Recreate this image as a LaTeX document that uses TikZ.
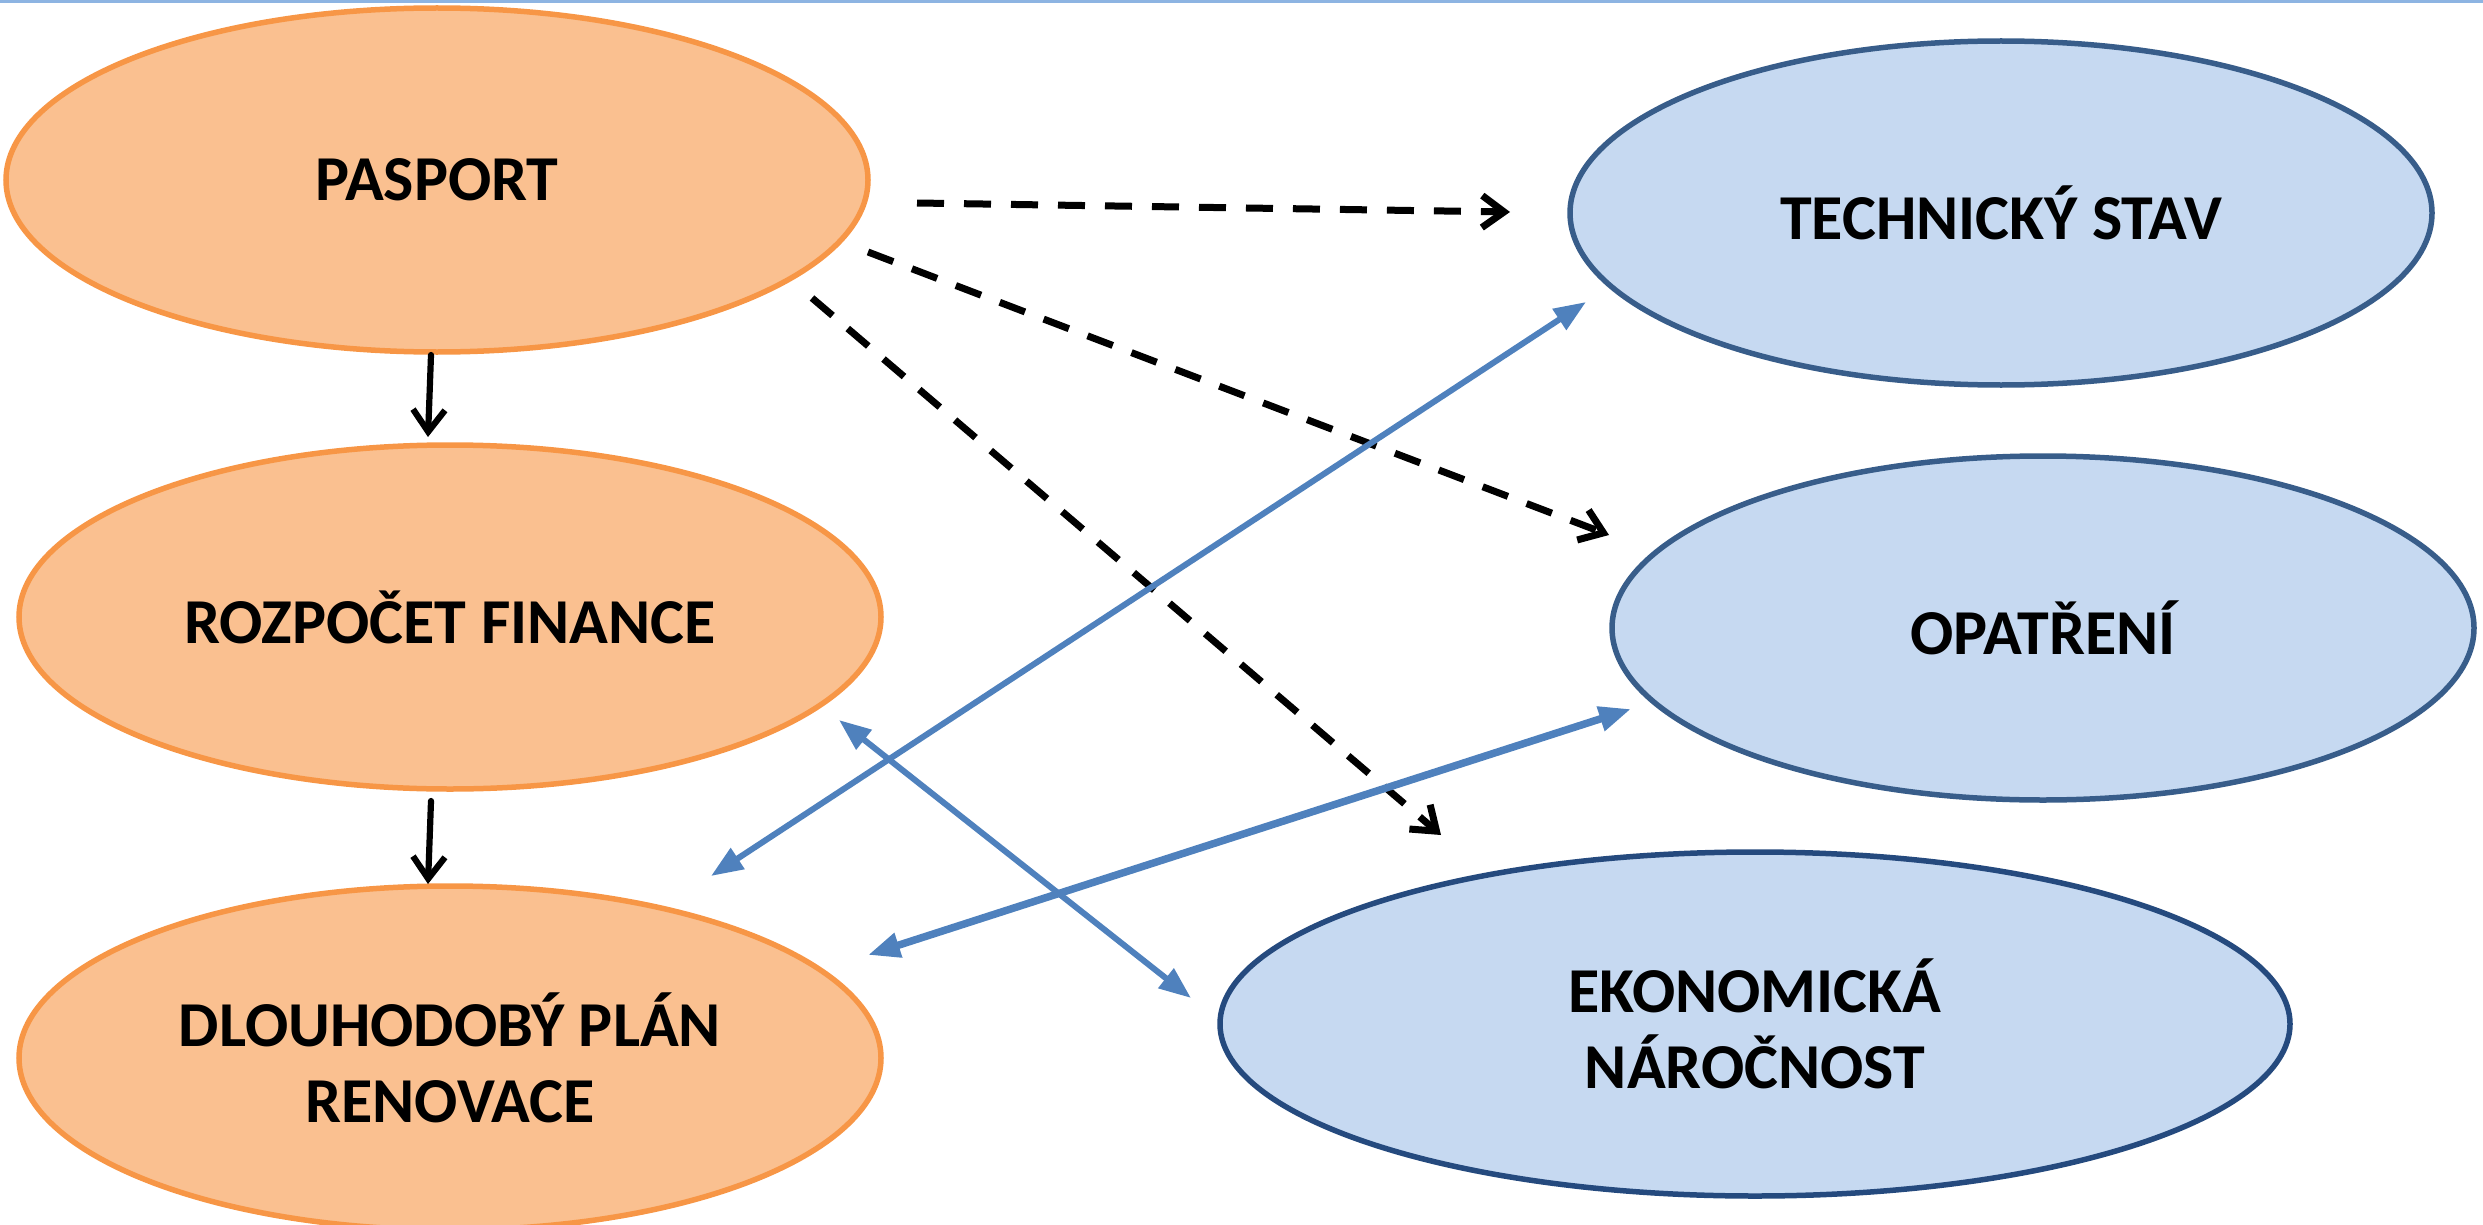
\documentclass[tikz,border=0pt]{standalone}
\usepackage{fontspec}
\setmainfont{Carlito}
\usetikzlibrary{arrows.meta,shapes.geometric}
\definecolor{orfill}{HTML}{FAC090}
\definecolor{ordraw}{HTML}{F79646}
\definecolor{blfill}{HTML}{C6D9F1}
\definecolor{bldraw}{HTML}{385D8A}
\definecolor{bldark}{HTML}{254A7E}
\definecolor{arrblue}{HTML}{4F81BD}
\definecolor{topline}{HTML}{8DB4E2}
\begin{document}
\begin{tikzpicture}[x=1pt,y=-1pt,
  oval/.style={ellipse, minimum width=862pt, minimum height=344pt, inner sep=0pt, outer sep=0pt,
    line width=5.5pt, font=\fontsize{64}{76}\selectfont\bfseries, align=center},
  orangenode/.style={oval, fill=orfill, draw=ordraw},
  bluenode/.style={oval, fill=blfill, draw=bldraw},
  solidarr/.style={line width=6.2pt, -{Straight Barb[length=22pt,width=32pt]}, line cap=round},
  dasharr/.style={line width=7pt, dash pattern=on 27pt off 20pt, -{Straight Barb[length=22pt,width=32pt]}},
  bluearr/.style={line width=6pt, draw=arrblue, {Triangle[length=32pt,width=24pt]}-{Triangle[length=32pt,width=24pt]}}
]
\useasboundingbox (0,0) rectangle (2483,1225);
\fill[topline] (0,0) rectangle (2483,3.5);

\node[orangenode] (pas) at (437,180) {PASPORT};
\node[orangenode] (roz) at (450,617) {ROZPOČET FINANCE};
\node[orangenode] (dlo) at (450,1058) {DLOUHODOBÝ PLÁN\\RENOVACE};
\node[bluenode] (tec) at (2001,213) {TECHNICKÝ STAV};
\node[bluenode] (opa) at (2043,628) {OPATŘENÍ};
\node[bluenode, draw=bldark, minimum width=1070pt] (eko) at (1755,1024) {EKONOMICKÁ\\NÁROČNOST};

\draw[solidarr] ([xshift=-6pt,yshift=-3pt]pas.south) -- ([xshift=-22pt,yshift=8pt]roz.north);
\draw[solidarr] ([xshift=-19pt,yshift=-12pt]roz.south) -- ([xshift=-22pt,yshift=2pt]dlo.north);

\draw[dasharr] ([xshift=49pt,yshift=-23pt]pas.east) -- ([xshift=-60pt,yshift=1pt]tec.west);
\draw[dasharr] ([xshift=0pt,yshift=-72pt]pas.east) -- ([xshift=-3pt,yshift=93pt]opa.west);
\draw[dasharr] ([xshift=-56pt,yshift=-118pt]pas.east) -- ([xshift=-314pt,yshift=17pt]eko.north);

\draw[bluearr] ([xshift=261pt,yshift=10pt]dlo.north) -- ([xshift=16pt,yshift=-89pt]tec.west);
\draw[bluearr] ([xshift=-42pt,yshift=-103pt]roz.east) -- ([xshift=-29pt,yshift=26pt]eko.west);
\draw[bluearr, line width=7.5pt] ([xshift=-13pt,yshift=103pt]dlo.east) -- ([xshift=19pt,yshift=-81pt]opa.west);
\end{tikzpicture}
\end{document}
